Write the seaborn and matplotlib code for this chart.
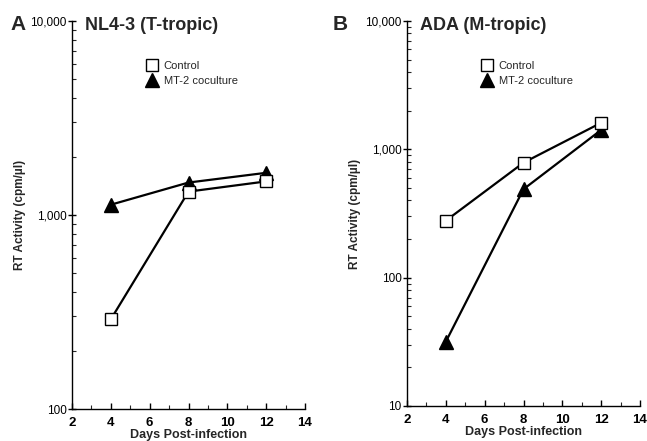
import matplotlib
matplotlib.use("Agg")
import matplotlib.pyplot as plt
import matplotlib.ticker as mticker
from matplotlib.lines import Line2D
import pandas as pd
import seaborn as sns

days = [4, 8, 12]
nl43_control = [290, 1320, 1490]
nl43_mt2 = [1130, 1470, 1650]
ada_control = [278, 787, 1610]
ada_mt2 = [31.7, 489, 1416]

groups = ["Control", "MT-2 coculture"]
panel_letters = ["A", "B"]
panel_titles = ["NL4-3 (T-tropic)", "ADA (M-tropic)"]

sns.set_style("ticks")
plt.rcParams["font.family"] = ["Liberation Sans", "DejaVu Sans"]


def comma_fmt(v, pos):
    return f"{int(round(v)):,}"


def draw_panel(ax, control, mt2, ylim):
    df_c = pd.DataFrame({"day": days, "rt": control})
    df_m = pd.DataFrame({"day": days, "rt": mt2})
    sns.lineplot(data=df_c, x="day", y="rt", ax=ax, color="black", lw=1.6,
                 marker="s", markersize=9, markerfacecolor="white",
                 markeredgecolor="black", markeredgewidth=1.0, zorder=3)
    sns.lineplot(data=df_m, x="day", y="rt", ax=ax, color="black", lw=1.6,
                 marker="^", markersize=10, markerfacecolor="black",
                 markeredgecolor="black", markeredgewidth=1.0, zorder=2)
    ax.set_yscale("log")
    ax.set_ylim(*ylim)
    ax.set_xlim(2, 14)
    ax.xaxis.set_major_locator(mticker.MultipleLocator(2))
    ax.xaxis.set_minor_locator(mticker.MultipleLocator(1))
    ax.yaxis.set_major_locator(mticker.LogLocator(base=10))
    ax.yaxis.set_minor_locator(mticker.LogLocator(base=10, subs=range(2, 10)))
    ax.yaxis.set_major_formatter(mticker.FuncFormatter(comma_fmt))
    ax.yaxis.set_minor_formatter(mticker.NullFormatter())
    ax.tick_params(axis="y", which="major", direction="inout", length=6,
                   width=1.0, labelsize=8.5, colors="black", pad=1)
    ax.tick_params(axis="x", which="major", direction="in", length=4,
                   width=1.0, labelsize=9.5, colors="black", pad=6)
    ax.tick_params(axis="both", which="minor", direction="in", length=3, width=0.8)
    for lbl in ax.get_xticklabels():
        lbl.set_fontweight("bold")
    for s in ["left", "bottom"]:
        ax.spines[s].set_linewidth(1.0)
        ax.spines[s].set_color("black")
    sns.despine(ax=ax)
    ax.set_xlabel("Days Post-infection", fontsize=9, fontweight="bold", labelpad=0)
    ax.set_ylabel("RT Activity (cpm/\u00b5l)", fontsize=8.5, fontweight="bold", labelpad=3)


fig = plt.figure(figsize=(6.47, 4.41), dpi=100)
ax1 = fig.add_axes([72 / 647, 1 - 409 / 441, 233 / 647, 388 / 441])
ax2 = fig.add_axes([407 / 647, 1 - 406 / 441, 233 / 647, 385 / 441])

draw_panel(ax1, nl43_control, nl43_mt2, (100, 10000))
draw_panel(ax2, ada_control, ada_mt2, (10, 10000))

handles = [
    Line2D([], [], ls="none", marker="s", markersize=9, markerfacecolor="white",
           markeredgecolor="black", label=groups[0]),
    Line2D([], [], ls="none", marker="^", markersize=10, markerfacecolor="black",
           markeredgecolor="black", label=groups[1]),
]
for ax, letter, title, lx, tx, gx in [(ax1, panel_letters[0], panel_titles[0], 10, 85, 146),
                                       (ax2, panel_letters[1], panel_titles[1], 333, 420, 481)]:
    fig.text(lx / 647, 1 - 24 / 441, letter, fontsize=15, fontweight="bold", va="center")
    fig.text(tx / 647, 1 - 25 / 441, title, fontsize=13, fontweight="bold", va="center")
    fig.legend(handles=handles, loc="upper left", bbox_to_anchor=(gx / 647, 1 - 61 / 441),
               frameon=False, fontsize=8, handlelength=1.0, handletextpad=0.6,
               labelspacing=0.45, borderpad=0, borderaxespad=0)

fig.savefig("out.png", dpi=100)
